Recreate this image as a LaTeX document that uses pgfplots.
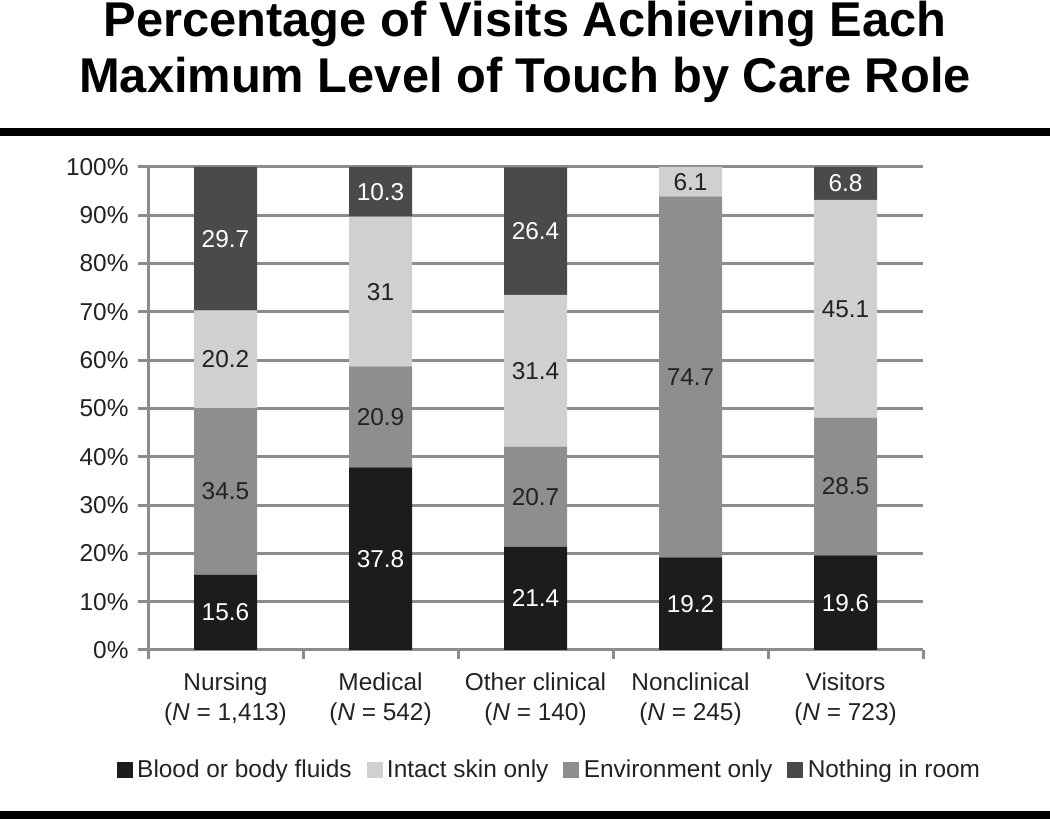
\documentclass[border=0pt]{standalone}
\usepackage{pgfplots}
\pgfplotsset{compat=1.18}
\usepackage{fontspec}
\setmainfont{Liberation Sans}
\definecolor{cBlood}{HTML}{1C1C1C}
\definecolor{cEnv}{HTML}{8E8E8E}
\definecolor{cSkin}{HTML}{D0D0D0}
\definecolor{cNone}{HTML}{4A4A4A}
\definecolor{cGrid}{HTML}{8C8C8C}
\definecolor{cText}{HTML}{222222}
\pgfplotsset{sq/.style={legend image code/.code={\fill[#1] (0bp,-7.5bp) rectangle (15bp,8bp); \path (18bp,0);}}}
\begin{document}
\begin{tikzpicture}[x=1bp,y=1bp]
\path[use as bounding box] (0,0) rectangle (1050,819);
\fill[black] (0,683) rectangle (1050,691);
\fill[black] (0,0) rectangle (1050,8);
\node[font=\fontsize{49}{58}\selectfont\bfseries, anchor=base] at (525,782) {Percentage of Visits Achieving Each};
\node[font=\fontsize{49}{58}\selectfont\bfseries, anchor=base] at (525,726) {Maximum Level of Touch by Care Role};
\begin{axis}[
  at={(148bp,169bp)}, anchor=south west,
  scale only axis, width=775bp, height=483bp,
  ybar stacked, bar width=63bp,
  xmin=-0.5, xmax=4.5, ymin=0, ymax=100,
  axis lines*=left,
  axis line style={draw=cGrid, line width=3bp},
  ymajorgrids, major grid style={draw=cGrid, line width=3bp},
  ytick={0,10,...,100},
  yticklabel={\pgfmathprintnumber[assume math mode=true]{\tick}\%},
  xtick={0,1,2,3,4},
  xticklabels={{Nursing\\(\textit{N} = 1,413)},{Medical\\(\textit{N} = 542)},{Other clinical\\(\textit{N} = 140)},{Nonclinical\\(\textit{N} = 245)},{Visitors\\(\textit{N} = 723)}},
  minor xtick={-0.5,0.5,1.5,2.5,3.5,4.5},
  tick align=outside,
  major tick length=10bp, minor tick length=9bp,
  major x tick style={draw=none},
  minor x tick style={draw=cGrid, line width=3bp},
  major y tick style={draw=cGrid, line width=3bp},
  tick label style={font=\fontsize{24.5}{30}\selectfont, text=cText},
  xticklabel style={align=center, yshift=-9bp},
  yticklabel style={xshift=-6bp},
  legend style={at={(0.518,-0.248)}, anchor=center, draw=none, fill=none,
    font=\fontsize{24.5}{30}\selectfont, text=cText,
    /tikz/every even column/.append style={column sep=13bp}},
  legend columns=4,
  legend cell align=left,
  nodes near coords,
  point meta=explicit symbolic,
  every node near coord/.append style={font=\fontsize{24.5}{30}\selectfont, anchor=center},
]
\addlegendimage{sq=cBlood}\addlegendentry{Blood or body fluids}
\addlegendimage{sq=cSkin}\addlegendentry{Intact skin only}
\addlegendimage{sq=cEnv}\addlegendentry{Environment only}
\addlegendimage{sq=cNone}\addlegendentry{Nothing in room}
\addplot[forget plot, fill=cBlood, draw=none, every node near coord/.append style={text=white}]
  coordinates {(0,15.6)[15.6] (1,37.8)[37.8] (2,21.4)[21.4] (3,19.2)[19.2] (4,19.6)[19.6]};
\addplot[forget plot, fill=cEnv, draw=none, every node near coord/.append style={text=cText}]
  coordinates {(0,34.5)[34.5] (1,20.9)[20.9] (2,20.7)[20.7] (3,74.7)[74.7] (4,28.5)[28.5]};
\addplot[forget plot, fill=cSkin, draw=none, every node near coord/.append style={text=cText}]
  coordinates {(0,20.2)[20.2] (1,31)[31] (2,31.4)[31.4] (3,6.1)[6.1] (4,45.1)[45.1]};
\addplot[forget plot, fill=cNone, draw=none, every node near coord/.append style={text=white}]
  coordinates {(0,29.7)[29.7] (1,10.3)[10.3] (2,26.4)[26.4] (3,0)[] (4,6.8)[6.8]};
\end{axis}
\end{tikzpicture}
\end{document}
